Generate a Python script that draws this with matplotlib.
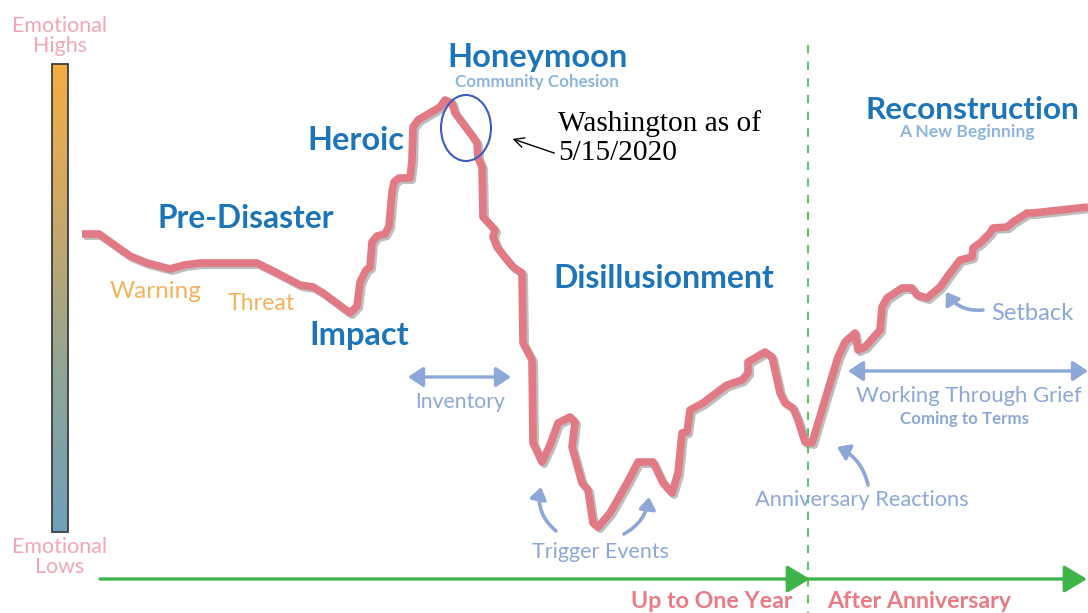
import matplotlib
matplotlib.use("Agg")
import matplotlib.pyplot as plt
import matplotlib.patheffects as pe
from matplotlib.patches import FancyArrowPatch, Ellipse, Rectangle
from matplotlib.colors import LinearSegmentedColormap
import numpy as np

# ---- data: emotional curve (time position, emotional level; smaller = higher) ----
curve_x = [82, 99, 130, 147, 170, 184, 200, 257, 277, 300, 313, 323, 350, 357, 360, 366,
           370, 372, 377, 385, 389, 392, 394, 399, 410, 412, 413, 418, 440, 445, 452, 455,
           473, 477, 478, 482, 483, 495, 493, 497, 503, 513, 522, 523, 532, 533, 542, 550,
           558, 570, 575, 572, 582, 588, 593, 598, 610, 627, 638, 653, 663, 672, 678, 682,
           687, 690, 703, 720, 727, 742, 748, 748, 765, 772, 780, 785, 793, 798, 805, 812,
           827, 838, 845, 855, 858, 865, 880, 882, 887, 902, 912, 917, 927, 940, 950, 960,
           972, 973, 980, 990, 993, 1007, 1013, 1027, 1033, 1088]
curve_y = [234, 234, 256, 263, 269, 265, 263, 263, 273, 285, 287, 293, 313, 306, 282, 270,
           267, 242, 236, 234, 226, 192, 182, 178, 178, 160, 127, 120, 107, 100, 103, 113,
           137, 143, 158, 167, 217, 230, 237, 247, 255, 267, 273, 343, 360, 443, 462, 445,
           423, 417, 422, 447, 483, 490, 523, 527, 513, 483, 462, 462, 483, 493, 473, 433,
           432, 410, 403, 390, 385, 380, 373, 362, 352, 357, 393, 403, 408, 420, 442, 443,
           393, 357, 342, 333, 350, 347, 330, 307, 298, 288, 288, 295, 298, 287, 273, 260,
           257, 248, 243, 233, 228, 227, 222, 213, 213, 207]

phase_labels = ["Pre-Disaster", "Heroic", "Honeymoon", "Impact", "Disillusionment", "Reconstruction"]
sub_labels = ["Community Cohesion", "A New Beginning", "Coming to Terms"]
event_labels = ["Warning", "Threat", "Inventory", "Trigger Events", "Anniversary Reactions",
                "Setback", "Working Through Grief"]
time_labels = ["Up to One Year", "After Anniversary"]
axis_labels = ["Emotional\nHighs", "Emotional\nLows"]
note_text = "Washington as of\n5/15/2020"
anniversary_x = 808

W, H = 1088, 613
fig = plt.figure(figsize=(W / 100, H / 100), dpi=100)
ax = fig.add_axes([0, 0, 1, 1])
ax.set_xlim(0, W)
ax.set_ylim(H, 0)
ax.axis("off")

BLUE = "#1D75B9"
SUBBLUE = "#8EB5DD"
LBLUE = "#8DA7D6"
ORANGE = "#F3B25E"
PINK = "#F2A6B5"
RED = "#E97B84"
CURVE = "#E27A85"
GREEN = "#3EB549"

# gradient bar
cmap = LinearSegmentedColormap.from_list("emo", ["#F5AD43", "#C9A86A", "#8FA596", "#6FA0BC"])
grad = np.linspace(0, 1, 256).reshape(-1, 1)
ax.imshow(grad, cmap=cmap, extent=[52, 68, 532, 64], aspect="auto", zorder=1)
ax.add_patch(Rectangle((52, 64), 16, 468, fill=False, ec="#3d3d3d", lw=1.3, zorder=2))

# anniversary dashed line
ax.plot([anniversary_x, anniversary_x], [45, 613], color="#66BF6F", lw=1.5,
        dashes=(4, 4), zorder=1)

# time arrows
for x0, x1 in [(100, anniversary_x + 2), (anniversary_x, 1087)]:
    ax.add_patch(FancyArrowPatch((x0, 579), (x1, 579), arrowstyle="-|>,head_length=10,head_width=6",
                                 color=GREEN, lw=2.4, mutation_scale=1.4, shrinkA=0, shrinkB=0,
                                 zorder=2))

# the curve
ax.plot(curve_x, curve_y, color=CURVE, lw=5.5, solid_joinstyle="round", solid_capstyle="butt",
        zorder=5,
        path_effects=[pe.SimpleLineShadow(offset=(1.6, -1.6), shadow_color="#8a8a8a", alpha=0.55),
                      pe.Normal()])

# double arrows
for x0, x1, y in [(408, 511, 377), (848, 1088, 371)]:
    ax.add_patch(FancyArrowPatch((x0, y), (x1, y), arrowstyle="<|-|>,head_length=6,head_width=4",
                                 color=LBLUE, lw=2.4, mutation_scale=1.5, shrinkA=0, shrinkB=0,
                                 zorder=3))

# curved arrows
for tail, head, rad in [((556, 531), (541, 487), -0.3), ((624, 534), (649, 497), 0.25),
                        ((868, 485), (837, 447), 0.25), ((983, 310), (946, 292), -0.3)]:
    ax.add_patch(FancyArrowPatch(tail, head, connectionstyle=f"arc3,rad={rad}",
                                 arrowstyle="-|>,head_length=5,head_width=3.5",
                                 color=LBLUE, lw=2.6, mutation_scale=1.4, shrinkA=0, shrinkB=0,
                                 zorder=3))

# ellipse and note
ax.add_patch(Ellipse((466, 128), 50, 66, fill=False, ec="#3C5DBE", lw=1.5, zorder=6))
ax.annotate("", xy=(510, 138), xytext=(557, 154),
            arrowprops=dict(arrowstyle="->,head_length=0.7,head_width=0.35", color="black", lw=1.0))

texts = []

def label(x, y, s, width, fam="Lato", **kw):
    t = ax.text(x, y, s, ha=kw.pop("ha", "center"), va=kw.pop("va", "center"),
                family=fam, fontsize=14, zorder=7, **kw)
    texts.append((t, width))
    return t

# axis labels
label(60, 36, axis_labels[0], 95, color=PINK, linespacing=0.95)
label(60, 557, axis_labels[1], 95, color=PINK, linespacing=0.95)

# phase headings
label(246, 219, phase_labels[0], 178, color=BLUE, weight="bold")
label(356, 140, phase_labels[1], 97, color=BLUE, weight="bold")
label(538, 57, phase_labels[2], 181, color=BLUE, weight="bold")
label(359, 336, phase_labels[3], 101, color=BLUE, weight="bold")
label(664, 279, phase_labels[4], 222, color=BLUE, weight="bold")
label(972, 110, phase_labels[5], 215, color=BLUE, weight="bold")

# sub labels
label(537, 82, sub_labels[0], 164, color=SUBBLUE, weight="bold")
label(967, 132, sub_labels[1], 136, color=SUBBLUE, weight="bold")
label(965, 419, sub_labels[2], 129, color=LBLUE, weight="bold")

# event labels
label(156, 292, event_labels[0], 92, color=ORANGE)
label(261, 303, event_labels[1], 67, color=ORANGE)
label(460, 402, event_labels[2], 90, color=LBLUE)
label(601, 552, event_labels[3], 137, color=LBLUE)
label(862, 500, event_labels[4], 215, color=LBLUE)
label(1032, 314, event_labels[5], 83, color=LBLUE)
label(969, 396, event_labels[6], 228, color=LBLUE)

# time labels
label(712, 601, time_labels[0], 163, color=RED, weight="bold")
label(919, 601, time_labels[1], 186, color=RED, weight="bold")

# note
label(558, 138, note_text, 204, fam="Liberation Serif", ha="left", color="black", linespacing=1.15)

fig.canvas.draw()
r = fig.canvas.get_renderer()
for t, w in texts:
    ext = t.get_window_extent(renderer=r)
    t.set_fontsize(t.get_fontsize() * w / ext.width)

fig.savefig("out.png", dpi=100)
